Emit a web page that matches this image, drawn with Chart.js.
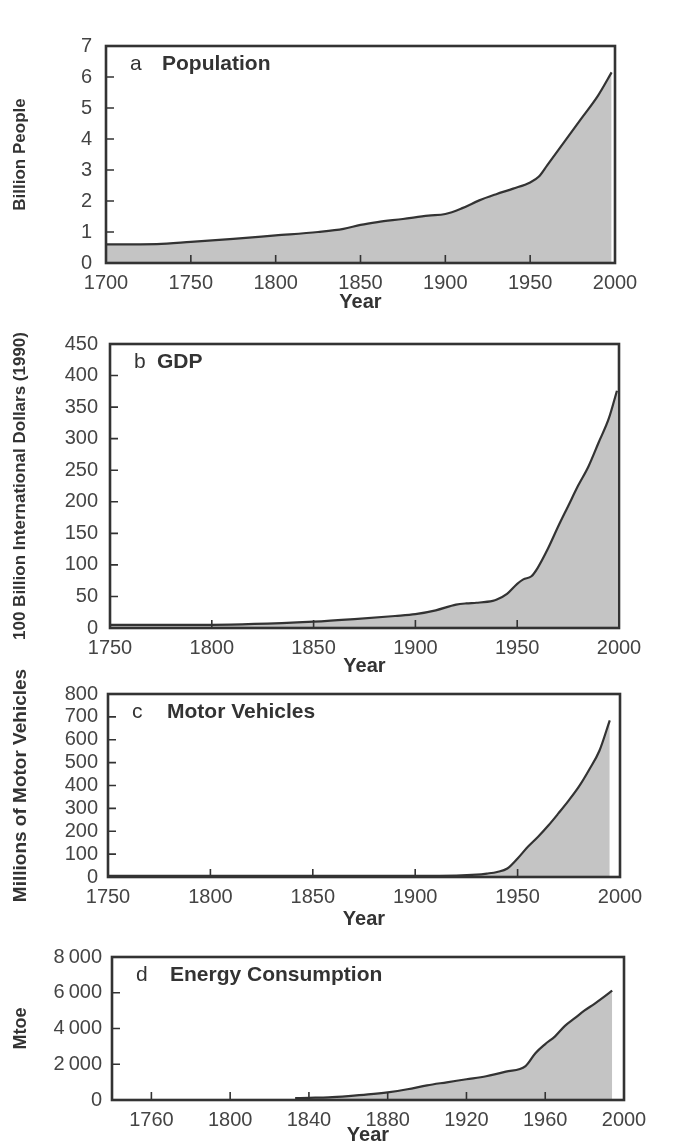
<!DOCTYPE html>
<html>
<head>
<meta charset="utf-8">
<script src="https://cdn.jsdelivr.net/npm/chart.js@4.4.1/dist/chart.umd.min.js"></script>
<style>
  body { margin: 0; background: #fff; width: 680px; height: 1147px; position: relative; overflow: hidden; }
  canvas { position: absolute; left: 0; }
</style>
</head>
<body>
<canvas id="popChart" width="680" height="300" style="top:20px"></canvas>
<canvas id="gdpChart" width="680" height="360" style="top:320px"></canvas>
<canvas id="carChart" width="680" height="285" style="top:650px"></canvas>
<canvas id="energyChart" width="680" height="212" style="top:935px"></canvas>
<script>
// a  Population (billion people)
const popYears  = [1700, 1730, 1750, 1775, 1800, 1825, 1840, 1850, 1860, 1875, 1890, 1900, 1910, 1920, 1930, 1940, 1950, 1955, 1960, 1970, 1980, 1990, 1998];
const popValues = [0.6, 0.61, 0.68, 0.78, 0.89, 1.0, 1.1, 1.23, 1.32, 1.42, 1.53, 1.58, 1.77, 2.02, 2.22, 2.4, 2.6, 2.78, 3.15, 3.9, 4.65, 5.4, 6.15];
const popXTicks = [1700, 1750, 1800, 1850, 1900, 1950, 2000];
const popYTicks = [0, 1, 2, 3, 4, 5, 6, 7];

// b  GDP (100 billion international dollars, 1990)
const gdpYears  = [1750, 1800, 1850, 1870, 1890, 1900, 1910, 1920, 1925, 1930, 1938, 1940, 1945, 1950, 1953, 1957, 1960, 1965, 1970, 1975, 1980, 1985, 1990, 1995, 1999];
const gdpValues = [5, 5, 10, 14, 19, 22, 28, 37, 39, 40, 43, 45, 54, 70, 77, 82, 95, 125, 160, 193, 226, 256, 294, 332, 376];
const gdpXTicks = [1750, 1800, 1850, 1900, 1950, 2000];
const gdpYTicks = [0, 50, 100, 150, 200, 250, 300, 350, 400, 450];

// c  Motor vehicles (millions)
const carYears  = [1750, 1800, 1850, 1900, 1920, 1930, 1935, 1940, 1945, 1950, 1955, 1960, 1965, 1970, 1975, 1980, 1985, 1990, 1995];
const carValues = [5, 5, 5, 5, 6, 10, 15, 22, 37, 81, 132, 176, 225, 279, 335, 396, 470, 553, 685];
const carXTicks = [1750, 1800, 1850, 1900, 1950, 2000];
const carYTicks = [0, 100, 200, 300, 400, 500, 600, 700, 800];

// d  Energy consumption (Mtoe)
const energyYears  = [1833, 1840, 1850, 1860, 1870, 1880, 1890, 1900, 1910, 1920, 1930, 1940, 1950, 1955, 1960, 1965, 1970, 1975, 1980, 1985, 1990, 1994];
const energyValues = [100, 120, 150, 220, 310, 430, 600, 820, 990, 1160, 1330, 1590, 1900, 2620, 3130, 3560, 4150, 4580, 5010, 5380, 5780, 6120];
const energyXTicks = [1760, 1800, 1840, 1880, 1920, 1960, 2000];
const energyYTicks = [0, 2000, 4000, 6000, 8000];
const energyYTickLabels = ['0', '2\u2009000', '4\u2009000', '6\u2009000', '8\u2009000'];

const FONT = '"Liberation Sans", Arial, Helvetica, sans-serif';

// box, inward tick marks and the panel label
const framePlugin = {
  id: 'frame',
  afterDatasetsDraw(chart, args, opts) {
    const { ctx, chartArea: a, scales: { x, y } } = chart;
    ctx.save();
    ctx.strokeStyle = '#333';
    ctx.lineWidth = 1.6;
    ctx.beginPath();
    x.ticks.forEach(t => {
      const px = x.getPixelForValue(t.value);
      if (px > a.left + 3 && px < a.right - 3) {
        ctx.moveTo(px, a.bottom);
        ctx.lineTo(px, a.bottom - 8);
      }
    });
    y.ticks.forEach(t => {
      const py = y.getPixelForValue(t.value);
      if (py > a.top + 3 && py < a.bottom - 3) {
        ctx.moveTo(a.left, py);
        ctx.lineTo(a.left + 8, py);
      }
    });
    ctx.stroke();
    ctx.lineWidth = 2.6;
    ctx.strokeRect(a.left, a.top, a.right - a.left, a.bottom - a.top);

    ctx.fillStyle = '#333';
    ctx.textBaseline = 'middle';
    ctx.font = '21px ' + FONT;
    ctx.fillText(opts.letter, a.left + 24, a.top + 18);
    ctx.font = 'bold 21px ' + FONT;
    ctx.fillText(opts.name, a.left + opts.nameOffset, a.top + 18);
    ctx.restore();
  }
};

function makePanel(canvasId, p) {
  const ctx = document.getElementById(canvasId).getContext('2d');
  return new Chart(ctx, {
    type: 'line',
    data: {
      datasets: [{
        data: p.years.map((yr, i) => ({ x: yr, y: p.values[i] })),
        borderColor: '#333',
        borderWidth: 2.2,
        backgroundColor: '#c4c4c4',
        fill: 'origin',
        pointRadius: 0,
        cubicInterpolationMode: 'monotone'
      }]
    },
    options: {
      responsive: false,
      animation: false,
      layout: { padding: { top: p.padTop, right: p.padRight, left: 0, bottom: 0 } },
      plugins: {
        legend: { display: false },
        tooltip: { enabled: false },
        frame: { letter: p.letter, name: p.name, nameOffset: p.nameOffset }
      },
      scales: {
        x: {
          type: 'linear',
          min: p.xMin,
          max: p.xMax,
          afterBuildTicks: s => { s.ticks = p.xTicks.map(v => ({ value: v })); },
          afterFit: s => { s.height = p.xHeight; },
          grid: { display: false, drawTicks: false },
          border: { display: false },
          ticks: {
            autoSkip: false, maxRotation: 0, padding: 8,
            color: '#444', font: { family: FONT, size: 20 },
            callback: v => String(v)
          },
          title: {
            display: true, text: 'Year', color: '#333',
            font: { family: FONT, size: 20, weight: 'bold' },
            padding: { top: 0, bottom: p.yearPad }
          }
        },
        y: {
          min: 0,
          max: p.yTicks[p.yTicks.length - 1],
          afterBuildTicks: s => { s.ticks = p.yTicks.map(v => ({ value: v })); },
          afterFit: s => { s.width = p.yWidth; },
          grid: { display: false, drawTicks: false },
          border: { display: false },
          ticks: {
            autoSkip: false,
            padding: p.yTickPad,
            color: '#444', font: { family: FONT, size: 20 },
            callback: v => p.yLabels ? p.yLabels[p.yTicks.indexOf(v)] : String(v)
          },
          title: {
            display: true, text: p.yTitle, color: '#333',
            font: { family: FONT, size: p.yTitleSize, weight: 'bold' },
            padding: { top: p.yTitlePad, bottom: 0 }
          }
        }
      }
    },
    plugins: [framePlugin]
  });
}

makePanel('popChart', {
  years: popYears, values: popValues, xMin: 1700, xMax: 2000,
  xTicks: popXTicks, yTicks: popYTicks,
  letter: 'a', name: 'Population', nameOffset: 56,
  yTitle: 'Billion People', yTitleSize: 17, yTitlePad: 10,
  padTop: 20, padRight: 65, yWidth: 106, xHeight: 57, yearPad: 6, yTickPad: 14
});

makePanel('gdpChart', {
  years: gdpYears, values: gdpValues, xMin: 1750, xMax: 2000,
  xTicks: gdpXTicks, yTicks: gdpYTicks,
  letter: 'b', name: 'GDP', nameOffset: 47,
  yTitle: '100 Billion International Dollars (1990)', yTitleSize: 17, yTitlePad: 10,
  padTop: 10, padRight: 61, yWidth: 110, xHeight: 52, yearPad: 2, yTickPad: 12
});

makePanel('carChart', {
  years: carYears, values: carValues, xMin: 1750, xMax: 2000,
  xTicks: carXTicks, yTicks: carYTicks,
  letter: 'c', name: 'Motor Vehicles', nameOffset: 59,
  yTitle: 'Millions of Motor Vehicles', yTitleSize: 19, yTitlePad: 9,
  padTop: 44, padRight: 60, yWidth: 108, xHeight: 58, yearPad: 4, yTickPad: 10
});

makePanel('energyChart', {
  years: energyYears, values: energyValues, xMin: 1740, xMax: 2000,
  xTicks: energyXTicks, yTicks: energyYTicks, yLabels: energyYTickLabels,
  letter: 'd', name: 'Energy Consumption', nameOffset: 58,
  yTitle: 'Mtoe', yTitleSize: 18, yTitlePad: 10,
  padTop: 9, padRight: 56, yWidth: 112, xHeight: 47, yearPad: 0, yTickPad: 10
});
</script>
</body>
</html>
